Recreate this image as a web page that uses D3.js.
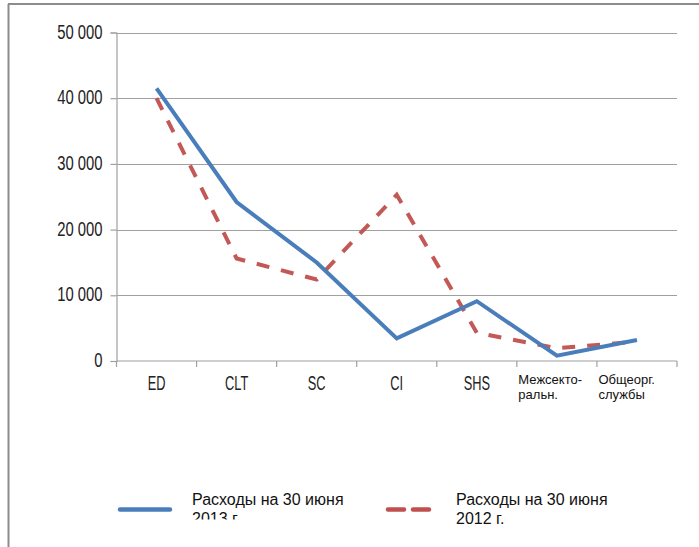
<!DOCTYPE html>
<html>
<head>
<meta charset="utf-8">
<script src="https://cdn.jsdelivr.net/npm/d3@7"></script>
<style>
  html, body { margin: 0; padding: 0; background: #fff; }
  svg { display: block; }
</style>
</head>
<body>
<svg id="chart" width="699" height="547"></svg>
<script>
// Expense categories and values (thousands)
const categories = ["ED", "CLT", "SC", "CI", "SHS", "Межсекто-ральн.", "Общеорг. службы"];
const categoryLines = [["ED"], ["CLT"], ["SC"], ["CI"], ["SHS"], ["Межсекто-", "ральн."], ["Общеорг.", "службы"]];
const expenses2013 = [41500, 24200, 15000, 3450, 9100, 800, 3200];
const expenses2012 = [40000, 15600, 12400, 25300, 4300, 1950, 2950];
const yTicks = [0, 10000, 20000, 30000, 40000, 50000];
const seriesNames = ["Расходы на 30 июня 2013 г.", "Расходы на 30 июня 2012 г."];
const legendLines = [["Расходы на 30 июня", "2013 г."], ["Расходы на 30 июня", "2012 г."]];

const svg = d3.select("#chart");
const sans = "'Liberation Sans', Arial, sans-serif";

// condense a text element horizontally by a factor
function condense(sel, factor) {
  sel.each(function () {
    const w = this.getComputedTextLength();
    d3.select(this).attr("textLength", w * factor).attr("lengthAdjust", "spacingAndGlyphs");
  });
}

const plot = { left: 116.5, right: 677, top: 32.5, bottom: 361 };

const x = d3.scaleBand().domain(categories).range([plot.left, plot.right]);
const y = d3.scaleLinear().domain([0, 50000]).range([plot.bottom, plot.top]);

// outer frame
svg.append("line").attr("x1", 8).attr("x2", 699).attr("y1", 4).attr("y2", 4)
  .attr("stroke", "#8c8c8c").attr("stroke-width", 2);
svg.append("line").attr("x1", 8.5).attr("x2", 8.5).attr("y1", 4).attr("y2", 547)
  .attr("stroke", "#8c8c8c").attr("stroke-width", 2);

// horizontal gridlines
svg.append("g").selectAll("line").data(yTicks.filter(d => d > 0)).join("line")
  .attr("x1", plot.left).attr("x2", plot.right)
  .attr("y1", d => Math.round(y(d)) + 0.5).attr("y2", d => Math.round(y(d)) + 0.5)
  .attr("stroke", "#a0a0a0").attr("stroke-width", 1.2);

// y axis
const fmt = d => d3.format(",")(d).replace(/,/g, " ");
const yAxis = svg.append("g").attr("transform", `translate(${plot.left},0)`)
  .call(d3.axisLeft(y).tickValues(yTicks).tickFormat(fmt).tickSizeOuter(0).tickSize(6).tickPadding(8));
yAxis.select(".domain").attr("stroke", "#a0a0a0").attr("stroke-width", 1.2);
yAxis.selectAll(".tick line").attr("stroke", "#a0a0a0").attr("stroke-width", 1.2);
yAxis.selectAll(".tick text").attr("font-family", sans).attr("font-size", 20)
  .attr("fill", "#222").attr("dy", "0.28em").call(condense, 0.74);

// x axis baseline and category boundary ticks
svg.append("line").attr("x1", plot.left).attr("x2", plot.right)
  .attr("y1", plot.bottom).attr("y2", plot.bottom).attr("stroke", "#a0a0a0").attr("stroke-width", 1.2);
const bounds = categories.map(c => x(c)).concat([plot.right]);
svg.append("g").selectAll("line").data(bounds).join("line")
  .attr("x1", d => d).attr("x2", d => d).attr("y1", plot.bottom).attr("y2", plot.bottom + 6)
  .attr("stroke", "#a0a0a0").attr("stroke-width", 1.2);

// category labels
categories.forEach((c, i) => {
  const lines = categoryLines[i];
  if (lines.length === 1) {
    svg.append("text").attr("x", x(c) + x.bandwidth() / 2).attr("y", 389.5)
      .attr("text-anchor", "middle").attr("font-family", sans).attr("font-size", 20)
      .attr("fill", "#222").text(lines[0]).call(condense, 0.64);
  } else {
    const t = svg.append("text").attr("font-family", sans).attr("font-size", 13).attr("fill", "#111");
    const lx = x(c) + 1.5;
    lines.forEach((s, k) => t.append("tspan").attr("x", lx).attr("y", 384 + k * 15).text(s));
  }
});

// lines
const line = d3.line().x((d, i) => x(categories[i]) + x.bandwidth() / 2).y(d => y(d));
svg.append("path").datum(expenses2012).attr("d", line).attr("fill", "none")
  .attr("stroke", "#c0504d").attr("stroke-width", 4).attr("stroke-dasharray", "13,12")
  .attr("stroke-opacity", 0.95);
svg.append("path").datum(expenses2013).attr("d", line).attr("fill", "none")
  .attr("stroke", "#4a7ebb").attr("stroke-width", 4).attr("stroke-linejoin", "miter");

// legend
svg.append("defs").append("clipPath").attr("id", "legendClip")
  .append("rect").attr("x", 0).attr("y", 0).attr("width", 699).attr("height", 519.5);
const legend = [
  { x1: 120, x2: 170, tx: 192, color: "#4a7ebb", dash: null, clip: true },
  { x1: 388, x2: 430, tx: 456, color: "#c0504d", dash: "16,9", clip: false }
];
legend.forEach((l, i) => {
  svg.append("line").attr("x1", l.x1).attr("x2", l.x2).attr("y1", 509.5).attr("y2", 509.5)
    .attr("stroke", l.color).attr("stroke-width", 4.5).attr("stroke-dasharray", l.dash)
    .attr("stroke-linecap", "round");
  const t = svg.append("text").attr("font-family", sans).attr("font-size", 16).attr("fill", "#111");
  if (l.clip) t.attr("clip-path", "url(#legendClip)");
  legendLines[i].forEach((s, k) => t.append("tspan").attr("x", l.tx).attr("y", 505 + k * 18.5).text(s));
});
</script>
</body>
</html>
